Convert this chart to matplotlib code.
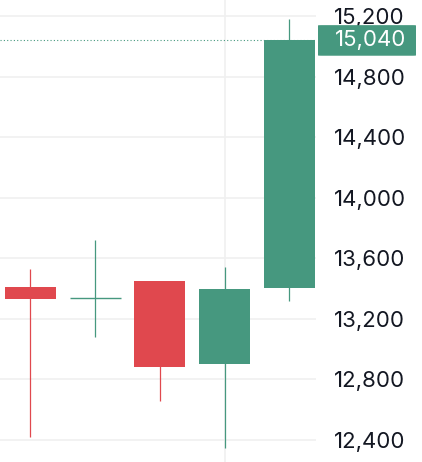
import matplotlib
matplotlib.use("Agg")
import matplotlib.pyplot as plt
import matplotlib.transforms as mtransforms
from matplotlib.patches import FancyBboxPatch

# candle data (open, high, low, close)
opens = [13410, 13335, 13450, 12900, 13405]
highs = [13530, 13720, 13450, 13540, 15180]
lows = [12420, 13080, 12660, 12350, 13320]
closes = [13330, 13335, 12880, 13395, 15040]
last_price = 15040
price_ticks = [12400, 12800, 13200, 13600, 14000, 14400, 14800, 15200]

UP = "#46987F"
DOWN = "#E0484E"
GRID = "#F0F0F0"
TEXT = "#131722"

plt.rcParams['font.family'] = ['Inter', 'DejaVu Sans']

fig = plt.figure(figsize=(4.22, 4.62), dpi=100)
ax = fig.add_axes([0, 0, 316 / 422, 1])

# grid
for t in price_ticks:
    ax.axhline(t, color=GRID, lw=1.2, zorder=0)
ax.axvline(3, color=GRID, lw=1.2, zorder=0)

body_w = 0.79
for i, (o, h, l, c) in enumerate(zip(opens, highs, lows, closes)):
    col = UP if c >= o else DOWN
    ax.vlines(i, l, h, color=col, lw=0.9, zorder=2)
    if o == c:
        ax.hlines(o, i - body_w / 2, i + body_w / 2, color=col, lw=1.0, zorder=3)
    else:
        ax.bar(i, abs(c - o), bottom=min(o, c), width=body_w, color=col,
               lw=0, zorder=3)

# last price line
ax.axhline(last_price, color=UP, lw=0.8, ls=(0, (1, 2)), zorder=1)

ax.set_xlim(-0.468, 4.41)
ax.set_ylim(12255, 15306)

ax.yaxis.tick_right()
ax.set_yticks(price_ticks)
ax.set_yticklabels([f"{t:,}" for t in price_ticks])
ax.tick_params(axis='y', length=0, pad=13, labelsize=16, labelcolor=TEXT)
ax.set_xticks([])
for s in ax.spines.values():
    s.set_visible(False)

# price label box
trans = mtransforms.blended_transform_factory(ax.transAxes, ax.transData)
box = FancyBboxPatch((318 / 316, 14938), (416 - 318) / 316, 15140 - 14938,
                     boxstyle="round,pad=0,rounding_size=0.01",
                     transform=trans, facecolor=UP, edgecolor='none',
                     clip_on=False, zorder=5, mutation_aspect=200)
ax.add_patch(box)
ax.text(335 / 316, last_price, f"{last_price:,}", transform=trans,
        color="white", fontsize=16, va='center', ha='left', zorder=6)

fig.savefig("out.png", dpi=100)
